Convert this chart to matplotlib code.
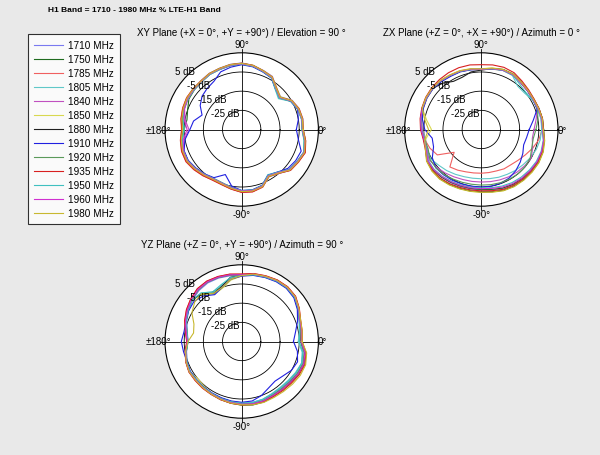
import numpy as np
import matplotlib
matplotlib.use("Agg")
import matplotlib.pyplot as plt

plt.rcParams['font.family'] = ['Liberation Sans', 'DejaVu Sans']

# ---------------- data ----------------
angles_deg = list(range(0, 360, 10))
freq_labels = ['1710 MHz', '1750 MHz', '1785 MHz', '1805 MHz', '1840 MHz', '1850 MHz',
               '1880 MHz', '1910 MHz', '1920 MHz', '1935 MHz', '1950 MHz', '1960 MHz', '1980 MHz']
colors = ['#7a7af0', '#1f6b1f', '#f06060', '#60c8c8', '#c050c0', '#d8d850', '#202020',
          '#2020e0', '#5a9a5a', '#d82020', '#40c0c0', '#d030d0', '#c8b830']
ring_levels = [-25, -15, -5, 5]
ring_labels = ['-25 dB', '-15 dB', '-5 dB', '5 dB']
angle_labels = ['0°', '90°', '±180°', '-90°']
main_title = 'H1 Band = 1710 - 1980 MHz % LTE-H1 Band'
plane_titles = ['XY Plane (+X = 0°, +Y = +90°) / Elevation = 90 °',
                'ZX Plane (+Z = 0°, +X = +90°) / Azimuth = 0 °',
                'YZ Plane (+Z = 0°, +Y = +90°) / Azimuth = 90 °']

# XY plane (dB, every 10 deg from 0 to 350)
xy_1710 = [-2.8,-2.6,-3.2,-4.6,-8.5,-6.8,-3.0,-2.2,-1.0,-0.3,-0.5,-1.0,-1.2,-1.8,-2.0,-2.0,-2.5,-3.3,-4.2,-3.0,-2.0,-1.9,-3.0,-4.0,-5.0,-4.6,-3.6,-2.4,-2.2,-3.1,-6.5,-5.0,-1.9,-1.0,0.0,-1.2]
xy_1750 = [-3.5,-3.3,-3.8,-5.5,-9.5,-7.5,-3.8,-2.8,-1.5,-1.0,-1.2,-1.7,-1.8,-2.5,-2.8,-3.2,-5.0,-6.0,-5.0,-3.5,-2.7,-2.6,-3.5,-4.6,-5.5,-5.4,-4.3,-3.0,-2.9,-3.8,-7.3,-5.9,-2.6,-1.6,-0.5,-1.8]
xy_1785 = [-2.9,-2.7,-3.1,-4.7,-8.8,-6.6,-3.2,-2.3,-1.0,-0.4,-0.6,-1.1,-1.2,-1.9,-1.9,-1.8,-2.2,-2.8,-3.6,-2.5,-1.6,-1.4,-2.4,-3.5,-4.6,-4.4,-3.5,-2.3,-2.0,-3.0,-6.8,-5.2,-1.9,-0.9,0.2,-1.2]
xy_1805 = [-3.6,-3.4,-4.0,-5.6,-10.0,-7.8,-4.0,-2.9,-1.5,-0.9,-1.0,-1.6,-1.9,-2.6,-2.7,-2.8,-3.2,-4.0,-5.0,-3.6,-2.8,-2.6,-3.6,-4.7,-5.6,-5.3,-4.4,-3.2,-3.0,-4.0,-7.8,-6.0,-2.6,-1.7,-0.6,-2.0]
xy_1840 = [-3.3,-3.1,-3.6,-5.2,-9.2,-7.2,-3.6,-2.6,-1.3,-0.7,-0.9,-1.4,-1.6,-2.3,-2.5,-2.6,-3.3,-5.0,-7.5,-4.5,-2.8,-2.4,-3.3,-4.4,-5.3,-5.1,-4.1,-2.9,-2.7,-3.6,-7.1,-5.6,-2.3,-1.4,-0.3,-1.6]
xy_1850 = [-2.9,-2.8,-3.3,-4.8,-8.6,-6.7,-3.3,-2.3,-1.0,-0.5,-0.6,-1.1,-1.3,-2.0,-2.0,-2.0,-2.4,-3.1,-4.0,-2.8,-2.0,-1.9,-2.9,-4.0,-4.9,-4.7,-3.7,-2.5,-2.3,-3.2,-6.6,-5.2,-2.0,-1.1,-0.1,-1.3]
xy_1880 = [-3.2,-3.0,-3.5,-5.0,-9.0,-7.0,-3.5,-2.5,-1.2,-0.6,-0.8,-1.3,-1.5,-2.2,-2.3,-2.3,-2.8,-3.5,-4.5,-3.2,-2.4,-2.2,-3.2,-4.3,-5.2,-5.0,-4.0,-2.8,-2.6,-3.5,-7.0,-5.5,-2.2,-1.3,-0.2,-1.5]
xy_1910 = [-6.5,-5.0,-4.0,-5.5,-9.0,-7.5,-4.0,-3.0,-1.8,-1.2,-2.0,-3.0,-6.0,-7.0,-8.0,-10.0,-13.0,-9.5,-8.0,-5.0,-3.0,-2.8,-3.8,-4.8,-6.0,-10.0,-5.0,-3.2,-3.0,-4.0,-7.5,-6.0,-3.5,-2.5,-2.0,-5.0]
xy_1920 = [-3.4,-3.2,-3.7,-5.3,-9.4,-7.3,-3.7,-2.7,-1.4,-0.8,-1.0,-1.5,-1.7,-2.4,-2.5,-2.6,-3.0,-3.8,-4.8,-3.4,-2.6,-2.4,-3.4,-4.5,-5.4,-5.2,-4.2,-3.0,-2.8,-3.7,-7.2,-5.7,-2.4,-1.5,-0.4,-1.7]
xy_1935 = [-3.0,-2.8,-3.3,-4.9,-8.9,-6.9,-3.4,-2.4,-1.1,-0.5,-0.7,-1.2,-1.4,-2.0,-2.0,-1.9,-2.3,-2.9,-3.8,-2.6,-1.7,-1.5,-2.5,-3.6,-4.5,-4.4,-3.4,-2.2,-2.0,-3.1,-6.7,-5.1,-1.8,-0.9,0.3,-1.1]
xy_1950 = [-3.5,-3.3,-3.9,-5.4,-9.6,-7.6,-3.9,-2.8,-1.5,-0.9,-1.1,-1.6,-1.8,-2.5,-2.6,-2.6,-3.1,-3.9,-4.9,-3.5,-2.7,-2.5,-3.5,-4.6,-5.5,-5.3,-4.3,-3.1,-2.9,-3.9,-7.5,-5.9,-2.5,-1.6,-0.5,-1.9]
xy_1960 = [-3.3,-3.1,-3.6,-5.1,-9.1,-7.1,-3.6,-2.6,-1.3,-0.7,-0.9,-1.4,-1.6,-2.3,-2.4,-2.5,-3.2,-4.5,-6.5,-4.0,-2.6,-2.3,-3.3,-4.4,-5.3,-5.1,-4.1,-2.9,-2.7,-3.6,-7.1,-5.6,-2.3,-1.4,-0.3,-1.6]
xy_1980 = [-3.0,-2.9,-3.4,-4.9,-8.8,-6.9,-3.4,-2.4,-1.1,-0.5,-0.7,-1.2,-1.4,-2.1,-2.1,-2.1,-2.6,-3.3,-4.2,-3.0,-2.2,-2.0,-3.0,-4.1,-5.0,-4.8,-3.8,-2.6,-2.4,-3.3,-6.8,-5.3,-2.1,-1.2,-0.1,-1.4]

# ZX plane
zx_1710 = [-3.0,-3.0,-3.4,-3.8,-3.5,-3.0,-2.0,-2.0,-2.8,-3.6,-3.2,-2.7,-2.5,-2.0,-1.8,-2.0,-2.5,-3.2,-4.0,-5.5,-5.0,-3.0,-2.5,-2.6,-3.0,-3.3,-3.5,-3.4,-3.0,-2.3,-1.8,-1.6,-1.4,-1.2,-1.4,-2.0]
zx_1750 = [-2.9,-2.9,-3.3,-3.7,-3.4,-2.9,-1.9,-1.9,-2.7,-3.6,-3.1,-2.6,-2.4,-1.9,-1.7,-1.9,-2.3,-3.0,-3.7,-4.8,-4.5,-2.6,-2.2,-2.6,-3.2,-3.6,-3.8,-3.7,-3.3,-2.5,-2.0,-1.8,-1.5,-1.2,-1.3,-1.9]
zx_1785 = [-3.3,-3.3,-3.6,-3.9,-3.6,-3.1,-2.2,-2.2,-3.0,-3.8,-3.3,-2.8,-2.6,-2.1,-2.0,-2.3,-2.8,-3.5,-4.3,-5.0,-6.5,-8.5,-16.5,-9.5,-10.5,-11.5,-12.0,-12.2,-12.2,-12.0,-11.3,-11.0,-10.0,-8.5,-6.5,-4.5]
zx_1805 = [-3.5,-3.4,-3.8,-4.2,-5.5,-5.5,-2.5,-2.2,-3.0,-3.8,-3.3,-2.8,-2.6,-2.2,-2.0,-2.2,-2.6,-3.3,-4.2,-5.2,-5.0,-4.5,-6.0,-7.0,-8.0,-8.8,-9.2,-9.3,-9.0,-8.5,-8.0,-7.2,-6.5,-5.5,-4.5,-3.8]
zx_1840 = [-7.5,-6.0,-4.0,-3.8,-3.5,-3.0,-2.0,-2.0,-2.8,-3.6,-3.1,-2.6,-2.4,-1.9,-1.7,-1.9,-2.4,-3.1,-4.0,-5.0,-4.8,-3.5,-4.5,-5.5,-6.5,-7.2,-7.5,-7.6,-7.4,-7.0,-6.5,-6.0,-5.5,-5.0,-6.5,-8.0]
zx_1850 = [-2.6,-2.6,-3.0,-3.4,-3.1,-2.6,-1.6,-1.6,-2.4,-3.3,-2.8,-2.3,-2.1,-1.6,-1.4,-1.6,-2.2,-6.0,-9.0,-5.5,-4.0,-2.0,-1.3,-1.2,-1.6,-2.0,-2.2,-2.2,-1.8,-1.0,-0.6,-0.5,-0.4,-0.3,-0.6,-1.4]
zx_1880 = [-2.5,-2.6,-3.0,-3.4,-3.2,-2.7,-1.7,-1.7,-2.8,-4.0,-4.5,-6.0,-6.0,-3.5,-1.8,-1.9,-2.3,-2.9,-3.6,-4.6,-4.3,-2.3,-1.6,-1.5,-1.9,-2.3,-2.5,-2.5,-2.1,-1.3,-0.9,-0.8,-0.7,-0.6,-0.9,-1.7]
zx_1910 = [-10.0,-7.5,-4.0,-3.8,-3.5,-3.0,-2.0,-2.0,-2.8,-3.6,-3.4,-3.0,-3.0,-2.5,-2.0,-2.2,-2.8,-3.8,-5.5,-9.0,-8.5,-5.5,-4.0,-4.2,-4.5,-4.8,-5.0,-5.0,-5.0,-5.2,-5.8,-7.0,-8.5,-10.0,-11.5,-11.0]
zx_1920 = [-6.5,-5.0,-3.8,-3.8,-3.5,-3.0,-2.0,-2.0,-2.8,-3.6,-3.2,-2.7,-2.5,-2.0,-1.8,-2.0,-2.4,-3.0,-3.8,-5.0,-5.5,-4.0,-4.0,-4.5,-5.2,-5.7,-6.0,-6.0,-5.8,-5.5,-5.2,-5.0,-5.0,-5.5,-7.0,-7.5]
zx_1935 = [-2.6,-2.6,-3.0,-3.2,-2.8,-2.0,-0.8,-0.5,-0.8,-1.2,-0.8,-0.7,-0.8,-1.0,-1.2,-1.5,-2.0,-2.6,-3.3,-4.3,-4.0,-2.3,-1.8,-1.8,-2.3,-2.8,-3.0,-3.0,-2.6,-1.8,-1.4,-1.2,-1.0,-0.8,-1.0,-1.8]
zx_1950 = [-3.2,-3.2,-3.6,-4.0,-4.8,-4.0,-2.2,-2.1,-2.9,-3.7,-3.2,-2.7,-2.5,-2.0,-1.8,-2.0,-2.4,-3.0,-3.8,-4.8,-4.6,-2.8,-2.8,-3.2,-3.8,-4.2,-4.5,-4.5,-4.2,-3.6,-3.0,-2.6,-2.2,-1.8,-1.8,-2.2]
zx_1960 = [-3.0,-3.0,-3.4,-3.8,-3.5,-3.0,-2.0,-2.0,-2.8,-3.6,-3.1,-2.6,-2.4,-1.9,-1.7,-1.9,-2.3,-2.9,-3.7,-4.7,-4.4,-2.6,-2.5,-3.0,-3.5,-3.9,-4.1,-4.1,-3.8,-3.0,-2.4,-2.0,-1.7,-1.4,-1.5,-2.0]
zx_1980 = [-2.7,-2.7,-3.1,-3.5,-3.2,-2.7,-1.7,-1.7,-2.5,-3.4,-2.9,-2.4,-2.2,-1.7,-1.5,-1.7,-2.2,-5.0,-7.5,-5.0,-4.0,-2.1,-1.4,-1.3,-1.7,-2.1,-2.3,-2.3,-1.9,-1.1,-0.7,-0.6,-0.5,-0.4,-0.7,-1.5]

# YZ plane
yz_1710 = [-4.2,-3.8,-3.0,-1.2,0.8,1.4,1.2,0.7,0.2,-0.6,-0.2,0.2,0.3,-0.3,-1.5,-3.0,-4.5,-6.2,-7.0,-5.8,-4.6,-3.9,-4.1,-4.0,-3.9,-3.6,-3.3,-3.0,-2.8,-2.8,-3.3,-3.2,-2.8,-2.2,-1.8,-2.5]
yz_1750 = [-3.8,-3.3,-2.6,-0.6,1.3,1.9,1.7,1.1,0.6,-0.2,0.3,0.7,0.9,0.4,-0.8,-2.3,-3.8,-5.6,-6.6,-5.3,-4.1,-3.4,-3.6,-3.5,-3.3,-2.8,-2.3,-1.8,-1.4,-1.4,-1.9,-1.8,-1.5,-0.8,-0.4,-1.3]
yz_1785 = [-3.6,-3.1,-2.4,-0.4,1.6,2.2,2.0,1.4,0.9,0.1,0.6,1.0,1.3,0.9,-0.4,-1.8,-3.4,-5.3,-6.4,-5.2,-4.0,-3.3,-3.4,-3.3,-3.2,-2.8,-2.4,-2.1,-1.8,-1.7,-2.1,-1.9,-1.4,-0.6,-0.1,-1.0]
yz_1805 = [-5.5,-4.5,-3.2,-1.0,1.0,1.6,1.4,0.8,0.3,-0.5,-1.5,-4.0,-5.5,-2.0,-1.5,-2.8,-4.3,-6.0,-7.0,-5.7,-4.5,-3.8,-4.0,-3.9,-3.8,-3.5,-3.2,-2.9,-2.7,-3.0,-3.6,-3.8,-3.4,-2.6,-1.8,-3.0]
yz_1840 = [-4.0,-3.4,-2.7,-0.6,1.4,2.0,1.8,1.2,0.7,-0.1,0.4,0.8,1.1,0.6,-0.7,-2.2,-3.7,-5.5,-6.5,-5.3,-4.1,-3.4,-3.6,-3.5,-3.4,-3.0,-2.6,-2.3,-2.0,-2.1,-2.6,-2.6,-2.2,-1.5,-1.0,-1.8]
yz_1850 = [-4.2,-3.6,-2.9,-0.9,1.1,1.7,1.5,0.9,0.4,-0.8,-2.5,-5.5,-6.5,-3.0,-1.3,-2.6,-4.1,-5.9,-6.8,-5.5,-4.3,-3.5,-5.0,-4.5,-3.6,-3.1,-2.7,-2.3,-1.9,-1.7,-2.1,-1.8,-1.2,-0.4,0.0,-1.2]
yz_1880 = [-4.2,-3.6,-2.9,-0.9,1.1,1.7,1.5,0.9,0.4,-0.5,-1.0,-4.5,-6.0,-2.5,-1.2,-2.6,-4.1,-5.9,-6.9,-5.6,-4.4,-3.7,-3.9,-3.8,-3.6,-3.2,-2.8,-2.4,-2.1,-2.0,-2.5,-2.3,-1.9,-1.1,-0.6,-1.6]
yz_1910 = [-8.0,-6.5,-4.0,-1.5,0.5,1.2,1.0,0.5,0.0,-0.9,-2.0,-5.0,-6.8,-4.0,-2.5,-3.0,-4.0,-4.5,-3.5,-4.2,-4.6,-4.0,-4.2,-4.1,-4.0,-3.8,-3.5,-3.3,-3.5,-5.0,-7.0,-8.0,-7.0,-5.0,-4.0,-5.5]
yz_1920 = [-4.1,-3.6,-2.9,-0.9,1.1,1.7,1.5,0.9,0.4,-0.4,0.1,0.5,0.7,0.1,-1.1,-2.6,-4.1,-5.9,-6.9,-5.6,-4.4,-3.7,-3.9,-3.8,-3.7,-3.3,-2.9,-2.5,-2.2,-2.2,-2.8,-2.8,-2.4,-1.6,-1.1,-1.9]
yz_1935 = [-3.5,-3.0,-2.3,-0.3,1.7,2.3,2.1,1.5,1.0,0.2,0.7,1.1,1.4,1.0,-0.3,-1.7,-3.3,-5.2,-6.3,-5.1,-3.9,-3.2,-3.3,-3.2,-3.1,-2.7,-2.3,-1.9,-1.6,-1.5,-1.9,-1.6,-1.2,-0.4,0.1,-0.9]
yz_1950 = [-5.0,-4.2,-3.0,-0.9,1.0,1.6,1.4,0.8,0.3,-0.5,-1.2,-3.5,-5.0,-2.0,-1.4,-2.7,-4.2,-6.0,-7.0,-5.7,-4.5,-3.8,-4.0,-3.9,-3.8,-3.4,-3.1,-2.8,-2.6,-2.8,-3.4,-3.5,-3.1,-2.3,-1.6,-2.6]
yz_1960 = [-3.9,-3.4,-2.7,-0.7,1.3,1.9,1.7,1.1,0.6,-0.2,0.3,0.7,0.9,0.4,-0.8,-2.3,-3.8,-5.6,-6.6,-5.4,-4.2,-3.5,-3.7,-3.6,-3.5,-3.1,-2.7,-2.3,-2.0,-2.0,-2.4,-2.3,-1.9,-1.1,-0.6,-1.5]
yz_1980 = [-3.5,-3.0,-2.3,-0.5,1.4,2.0,1.8,1.2,0.7,-0.6,-2.0,-5.0,-6.0,-2.5,-3.0,-5.0,-8.5,-9.5,-7.0,-5.3,-4.1,-3.4,-3.6,-3.5,-3.3,-2.9,-2.4,-2.0,-1.5,-1.2,-1.3,-1.0,-0.4,0.3,0.5,-0.6]

xy_series = [xy_1710, xy_1750, xy_1785, xy_1805, xy_1840, xy_1850, xy_1880,
             xy_1910, xy_1920, xy_1935, xy_1950, xy_1960, xy_1980]
zx_series = [zx_1710, zx_1750, zx_1785, zx_1805, zx_1840, zx_1850, zx_1880,
             zx_1910, zx_1920, zx_1935, zx_1950, zx_1960, zx_1980]
yz_series = [yz_1710, yz_1750, yz_1785, yz_1805, yz_1840, yz_1850, yz_1880,
             yz_1910, yz_1920, yz_1935, yz_1950, yz_1960, yz_1980]

# ---------------- layout ----------------
W, H = 600, 456
R_PX = 76.7
RMIN, RMAX = -35, 5
BG = '#e9e9e9'
FS = 7.0

fig = plt.figure(figsize=(W / 100, H / 100), dpi=100, facecolor=BG)


def polar_panel(cx, cy, title, series_list):
    ax = fig.add_axes([(cx - R_PX) / W, 1 - (cy + R_PX) / H, 2 * R_PX / W, 2 * R_PX / H],
                      projection='polar')
    ax.set_facecolor('white')
    ax.set_ylim(RMIN, RMAX)
    ax.grid(False)
    ax.set_xticks([])
    ax.set_yticks([])
    ax.spines['polar'].set_color('black')
    ax.spines['polar'].set_linewidth(0.8)
    tc = np.linspace(0, 2 * np.pi, 361)
    for lev in ring_levels[:-1]:
        ax.plot(tc, np.full_like(tc, lev), color='black', lw=0.6, zorder=1)
    for a in [0, 90, 180, 270]:
        ax.plot([np.deg2rad(a)] * 2, [RMIN, RMAX + 2.2], color='black', lw=0.6,
                clip_on=False, zorder=1)
    th = np.deg2rad(angles_deg + [angles_deg[0]])
    lines = []
    for vals, col, lab in zip(series_list, colors, freq_labels):
        ln, = ax.plot(th, list(vals) + [vals[0]], color=col, lw=0.8, label=lab, zorder=2)
        lines.append(ln)
    for lev, lab in zip(ring_levels, ring_labels):
        ax.text(np.deg2rad(134), lev + 2.3, lab, ha='center', va='center', fontsize=FS,
                clip_on=False, zorder=4)
    pos = {'0°': (0, 7.3), '90°': (90, 9.6), '±180°': (180, 8.3), '-90°': (270, 9.1)}
    for lab in angle_labels:
        a, r = pos[lab]
        ax.text(np.deg2rad(a), r, lab, ha='center', va='center', fontsize=FS,
                clip_on=False, zorder=4)
    fig.text(cx / W, 1 - (cy - 97) / H, title, ha='center', va='center', fontsize=FS)
    return lines


lines = polar_panel(241.7, 130.5, plane_titles[0], xy_series)
polar_panel(481.3, 130.5, plane_titles[1], zx_series)
polar_panel(241.7, 342.5, plane_titles[2], yz_series)

fig.text(48 / W, 1 - 10 / H, main_title, ha='left', va='center', fontsize=6.0,
         fontweight='bold')

leg = fig.legend(lines, freq_labels, loc='upper left', bbox_to_anchor=(28 / W, 1 - 35 / H),
                 fontsize=7.2, frameon=True, fancybox=False, edgecolor='black',
                 borderaxespad=0, handlelength=2.9, handletextpad=0.45,
                 labelspacing=0.4, borderpad=0.6)
leg.get_frame().set_linewidth(0.8)
leg.get_frame().set_facecolor('white')

fig.savefig('out.png', dpi=100, facecolor=BG)
